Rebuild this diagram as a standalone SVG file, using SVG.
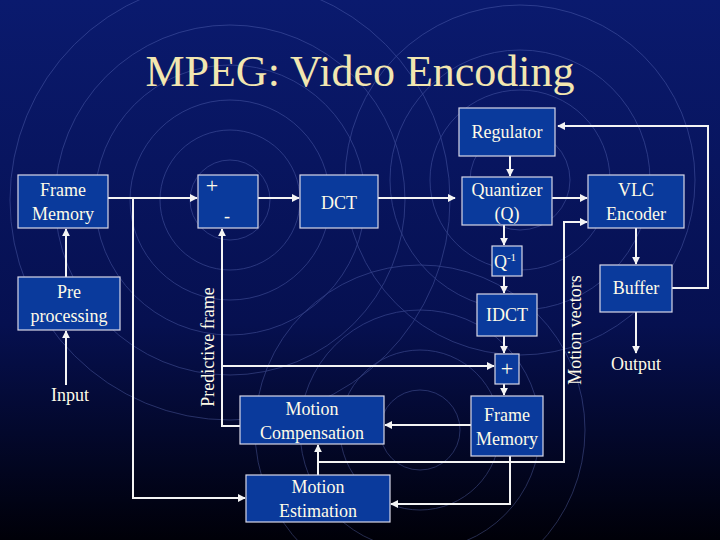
<svg xmlns="http://www.w3.org/2000/svg" width="720" height="540" viewBox="0 0 720 540">
<defs>
<linearGradient id="bg" x1="0" y1="0" x2="0" y2="1">
<stop offset="0" stop-color="#0a1a6e"/><stop offset="0.6" stop-color="#061050"/><stop offset="1" stop-color="#000008"/>
</linearGradient>
<marker id="ar" viewBox="0 0 10 10" refX="9" refY="5" markerWidth="4" markerHeight="4" orient="auto"><path d="M0,0 L10,5 L0,10 z" fill="#f4f4f4"/></marker>
<style>
.b{fill:#0a3a9c;stroke:#d8d8e8;stroke-width:1.2}
.t{font-size:18px;fill:#fffbe8;text-anchor:middle}
.c{fill:none;stroke:#f4f4f4;stroke-width:2;marker-end:url(#ar)}
.r{fill:none;stroke:#6a7ac8;stroke-width:0.8;opacity:0.45}
</style>
</defs>
<rect width="720" height="540" fill="url(#bg)"/>
<g class="r">
<circle cx="230" cy="200" r="40"/><circle cx="230" cy="200" r="70"/><circle cx="230" cy="200" r="100"/><circle cx="230" cy="200" r="135"/><circle cx="230" cy="200" r="175"/><circle cx="230" cy="200" r="220"/>
<circle cx="520" cy="180" r="50"/><circle cx="520" cy="180" r="90"/><circle cx="520" cy="180" r="130"/><circle cx="520" cy="180" r="175"/>
<circle cx="420" cy="430" r="40"/><circle cx="420" cy="430" r="80"/><circle cx="420" cy="430" r="120"/><circle cx="420" cy="430" r="165"/>
</g>
<g font-family="Liberation Serif, Times New Roman, serif">
<text x="360" y="86" font-size="44" fill="#f2e6b0" text-anchor="middle">MPEG: Video Encoding</text>
<g id="connectors">
<path class="c" d="M66,385 V331"/>
<path class="c" d="M66,277 V229"/>
<path class="c" d="M108,198 H197"/>
<path class="c" d="M133,198 V498 H245"/>
<path class="c" d="M258,198 H299"/>
<path class="c" d="M378,198 H455"/>
<path class="c" d="M510,156 V176"/>
<path class="c" d="M552,198 H587"/>
<path class="c" d="M504,225 V245"/>
<path class="c" d="M504,276 V293"/>
<path class="c" d="M504,336 V353"/>
<path class="c" d="M504,384 V395"/>
<path class="c" d="M471,425 H385"/>
<path class="c" d="M240,426 H222 V229"/>
<path class="c" d="M222,366 H494"/>
<path class="c" d="M510,456 V504 H391"/>
<path class="c" d="M318,475 V445"/>
<path class="c" d="M318,462 H564 V222 H587"/>
<path class="c" d="M636,228 V264"/>
<path class="c" d="M636,312 V353"/>
<path class="c" d="M672,288 H708 V126 H558"/>
</g>
<g id="frame-memory"><rect class="b" x="18" y="175" width="90" height="53"/><text class="t" x="63" y="196">Frame</text><text class="t" x="63" y="220">Memory</text></g>
<g id="preprocessing"><rect class="b" x="18" y="277" width="102" height="53"/><text class="t" x="69" y="298">Pre</text><text class="t" x="69" y="322">processing</text></g>
<g id="input"><text class="t" x="70" y="401">Input</text></g>
<g id="sum"><rect class="b" x="198" y="175" width="60" height="53"/><text class="t" x="212" y="193" style="font-size:22px">+</text><text class="t" x="227" y="222">-</text></g>
<g id="dct"><rect class="b" x="300" y="175" width="78" height="53"/><text class="t" x="339" y="209">DCT</text></g>
<g id="regulator"><rect class="b" x="459" y="108" width="96" height="48"/><text class="t" x="507" y="138">Regulator</text></g>
<g id="quantizer"><rect class="b" x="462" y="177" width="90" height="48"/><text class="t" x="507" y="196">Quantizer</text><text class="t" x="507" y="220">(Q)</text></g>
<g id="vlc"><rect class="b" x="588" y="175" width="96" height="53"/><text class="t" x="636" y="196">VLC</text><text class="t" x="636" y="220">Encoder</text></g>
<g id="qinv"><rect class="b" x="492" y="246" width="30" height="30"/><text class="t" x="505" y="268">Q<tspan style="font-size:11px" dy="-7">-1</tspan></text></g>
<g id="idct"><rect class="b" x="477" y="294" width="60" height="42"/><text class="t" x="507" y="321">IDCT</text></g>
<g id="add"><rect class="b" x="495" y="354" width="24" height="30"/><text class="t" x="507" y="376" style="font-size:22px">+</text></g>
<g id="frame-memory-2"><rect class="b" x="471" y="396" width="72" height="60"/><text class="t" x="507" y="421">Frame</text><text class="t" x="507" y="445">Memory</text></g>
<g id="motion-comp"><rect class="b" x="240" y="396" width="144" height="48"/><text class="t" x="312" y="415">Motion</text><text class="t" x="312" y="439">Compensation</text></g>
<g id="motion-est"><rect class="b" x="246" y="475" width="144" height="47"/><text class="t" x="318" y="493">Motion</text><text class="t" x="318" y="517">Estimation</text></g>
<g id="buffer"><rect class="b" x="600" y="265" width="72" height="47"/><text class="t" x="636" y="294">Buffer</text></g>
<g id="output"><text class="t" x="636" y="370">Output</text></g>
<text class="t" transform="translate(214,347) rotate(-90)">Predictive frame</text>
<text class="t" transform="translate(581,330) rotate(-90)">Motion vectors</text>
</g>
</svg>
